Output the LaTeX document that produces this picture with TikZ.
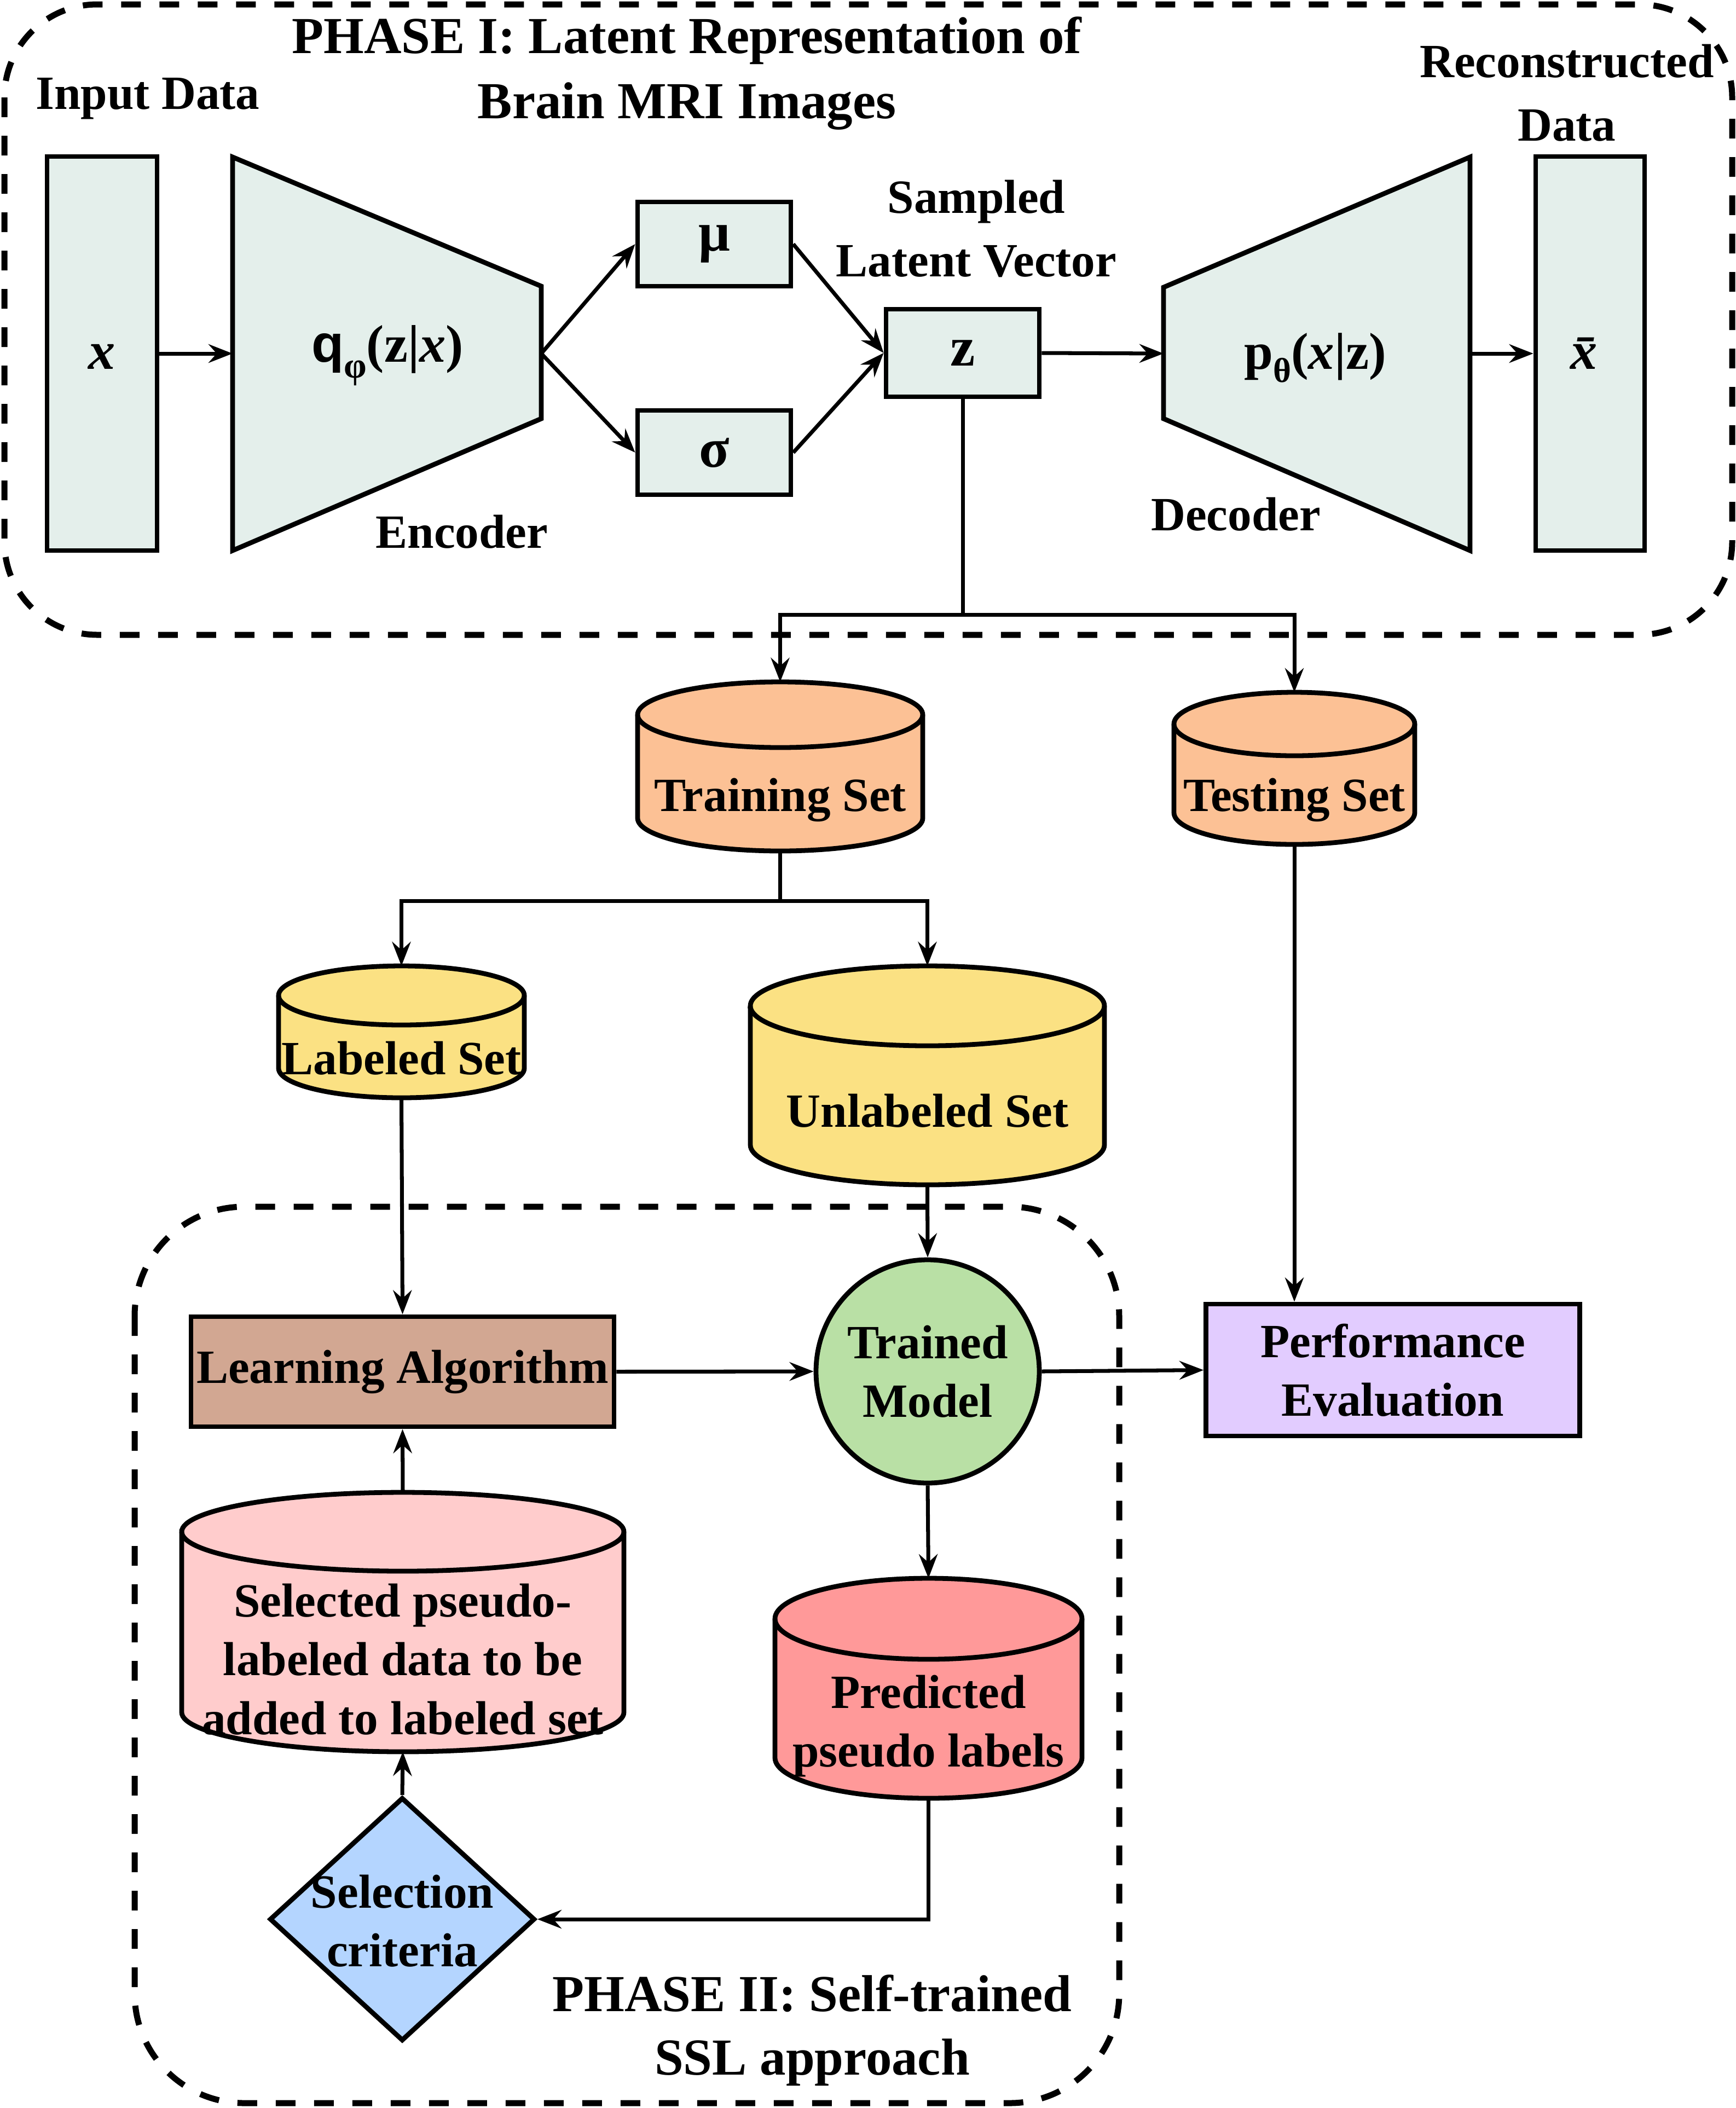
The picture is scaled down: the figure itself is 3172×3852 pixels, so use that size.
\documentclass[tikz,border=0pt]{standalone}
\usepackage{fontspec}
\setmainfont{Liberation Serif}
\setsansfont{Liberation Sans}
\usetikzlibrary{arrows.meta,shapes.geometric,calc}
\definecolor{vae}{HTML}{E4EFEB}
\definecolor{setor}{HTML}{FCC195}
\definecolor{setye}{HTML}{FBE183}
\definecolor{learnc}{HTML}{D2A792}
\definecolor{trainc}{HTML}{B9E0A5}
\definecolor{predc}{HTML}{FF9999}
\definecolor{selc}{HTML}{FFCCCC}
\definecolor{critc}{HTML}{B4D5FF}
\definecolor{perfc}{HTML}{E2CCFF}
\newcommand{\drawcyl}[4]{%
  \draw[shp, fill=#4] ([yshift=-#3]#1.north west) -- ([yshift=#3]#1.south west)
    arc[start angle=180,end angle=360,x radius=#2,y radius=#3]
    -- ([yshift=-#3]#1.north east)
    arc[start angle=0,end angle=180,x radius=#2,y radius=#3] -- cycle;
  \draw[shp] ([yshift=-#3]#1.north west) arc[start angle=180,end angle=360,x radius=#2,y radius=#3];}
\begin{document}
\begin{tikzpicture}[x=0.1mm,y=-0.1mm,
  shp/.style={line width=2.5pt, line join=miter},
  box/.style={shp, draw, fill=vae, inner sep=0pt},
  conn/.style={line width=2pt},
  arr/.style={conn, -{Stealth[length=4.4mm,width=3.4mm,inset=1.5mm]}},
  phase/.style={line width=1.1mm, dash pattern=on 3.6mm off 3.4mm},
  lbl/.style={font=\fontsize{24.8}{33}\selectfont\bfseries, align=center, inner sep=0pt},
  lbll/.style={font=\fontsize{24.8}{30.5}\selectfont\bfseries, align=center, inner sep=0pt},
  ttl/.style={font=\fontsize{27}{34}\selectfont\bfseries, align=center, inner sep=0pt},
  cylbox/.style={inner sep=0pt, outer sep=0pt, draw=none}]
\useasboundingbox (0,0) rectangle (3172,3852);
% phase boxes
\draw[phase, rounded corners=17mm] (8,8) rectangle (3165,1160);
\draw[phase, rounded corners=20mm] (246,2205) rectangle (2045,3843);
% Phase I titles
\node[ttl] (t1) at (1255,134) {PHASE I: Latent Representation of\\Brain MRI Images};
\node[lbl] (inlbl) at (270,180) {Input Data};
\node[lbl] (reclbl) at (2863,170) {Reconstructed\\Data};
\node[lbl] (samlbl) at (1784,418) {Sampled\\Latent Vector};
\node[lbl] (enclbl) at (844,972) {Encoder};
\node[lbl] (declbl) at (2258,940) {Decoder};
% input / output
\node[box, minimum width=20.1mm, minimum height=72mm] (input) at (186.5,646) {};
\node[font=\fontsize{28}{28}\selectfont\bfseries] (xlbl) at (186.5,652) {\textit{x}};
\node[box, minimum width=19.9mm, minimum height=72mm] (xbar) at (2905.5,646) {};
\node[font=\fontsize{28}{28}\selectfont\bfseries] (xbarlbl) at (2905.5,646) {\textit{\={x}}};
% encoder / decoder
\draw[shp, fill=vae] (425,287) -- (989,523) -- (989,765) -- (425,1006) -- cycle;
\coordinate (encL) at (425,646);
\coordinate (encR) at (989,646);
\node[font=\fontsize{27.5}{27.5}\selectfont\bfseries] (qlbl) at (708,650)
  {{\sffamily q}\raisebox{-0.3em}{\fontsize{19}{19}\selectfont φ}(z|\textit{x})};
\draw[shp, fill=vae] (2126,525) -- (2686,287) -- (2686,1006) -- (2126,765) -- cycle;
\coordinate (decL) at (2126,646);
\coordinate (decR) at (2686,646);
\node[font=\fontsize{27}{27}\selectfont\bfseries] (plbl) at (2403,654)
  {p\raisebox{-0.25em}{\fontsize{18}{18}\selectfont θ}(\textit{x}|z)};
% mu sigma z
\node[box, minimum width=28mm, minimum height=15.4mm, font=\fontsize{29}{29}\selectfont\bfseries] (mu) at (1305,446) {μ};
\node[box, minimum width=28mm, minimum height=15.4mm, font=\fontsize{29}{29}\selectfont\bfseries] (sigma) at (1305,827) {σ};
\node[box, minimum width=28mm, minimum height=16mm, font=\fontsize{29}{29}\selectfont\bfseries] (z) at (1759,645) {z};
% cylinders
\node[cylbox, minimum width=52.1mm, minimum height=30.9mm] (train) at (1425.5,1400.5) {};
\drawcyl{train}{26.05mm}{6mm}{setor}
\node[lbll] (trainl) at (1425.5,1462) {Training Set};
\node[cylbox, minimum width=44mm, minimum height=27.8mm] (test) at (2365,1404) {};
\drawcyl{test}{22mm}{5.8mm}{setor}
\node[lbll] (testl) at (2365,1462) {Testing Set};
\node[cylbox, minimum width=44.9mm, minimum height=24.1mm] (lab) at (733.5,1885.5) {};
\drawcyl{lab}{22.45mm}{5.4mm}{setye}
\node[lbll] (labl) at (733.5,1934) {Labeled Set};
\node[cylbox, minimum width=64.7mm, minimum height=40mm] (unlab) at (1694.5,1965) {};
\drawcyl{unlab}{32.35mm}{7.3mm}{setye}
\node[lbll] (unlabl) at (1694.5,2030) {Unlabeled Set};
\node[cylbox, minimum width=80.8mm, minimum height=47.4mm] (selected) at (736,2964) {};
\drawcyl{selected}{40.4mm}{7.2mm}{selc}
\node[lbll] (selectedl) at (736,3032) {Selected pseudo-\\labeled data to be\\added to labeled set};
\node[cylbox, minimum width=56.1mm, minimum height=40.2mm] (pred) at (1696.5,3085) {};
\drawcyl{pred}{28.05mm}{7.4mm}{predc}
\node[lbll] (predl) at (1696.5,3154) {Predicted\\pseudo labels};
% phase II nodes
\node[shp, draw, fill=learnc, minimum width=77.3mm, minimum height=20.1mm, inner sep=0pt, lbll] (learn) at (735.5,2506.5) {Learning Algorithm};
\node[shp, draw, fill=trainc, circle, minimum size=40.8mm, inner sep=0pt, lbll] (trained) at (1695,2506) {Trained\\Model};
\node[shp, draw, fill=perfc, minimum width=68.3mm, minimum height=24.1mm, inner sep=0pt, lbll] (perf) at (2545,2503.5) {Performance\\Evaluation};
\node[shp, draw, fill=critc, diamond, minimum width=48.5mm, minimum height=44.5mm, inner sep=0pt] (sel) at (735,3507) {};
\node[lbll] (sell) at (735,3510) {Selection\\criteria};
\node[ttl, font=\fontsize{27}{33}\selectfont\bfseries] (t2) at (1484,3710) {PHASE II: Self-trained\\SSL approach};
% connectors
\draw[arr] (input.east) -- (encL);
\draw[arr] (encR) -- (mu.west);
\draw[arr] (encR) -- (sigma.west);
\draw[arr] (mu.east) -- (z.west);
\draw[arr] (sigma.east) -- (z.west);
\draw[arr] (z.east) -- (decL);
\draw[arr] (decR) -- (xbar.west);
\coordinate (zb) at (1759,1123);
\draw[conn] (z.south) -- (zb);
\draw[arr] (zb) -| (train.north);
\draw[arr] (zb) -| (test.north);
\coordinate (tb) at (1425.5,1646);
\draw[conn] (train.south) -- (tb);
\draw[arr] (tb) -| (lab.north);
\draw[arr] (tb) -| (unlab.north);
\draw[arr] (test.south) -- (test.south |- perf.north);
\draw[arr] (lab.south) -- (learn.north);
\draw[arr] (unlab.south) -- (trained.north);
\draw[arr] (learn.east) -- (trained.west);
\draw[arr] (trained.east) -- (perf.west);
\draw[arr] (trained.south) -- (pred.north);
\draw[arr] (pred.south) |- (sel.east);
\draw[arr] (sel.north) -- (selected.south);
\draw[arr] (selected.north) -- (learn.south);
\end{tikzpicture}
\end{document}
